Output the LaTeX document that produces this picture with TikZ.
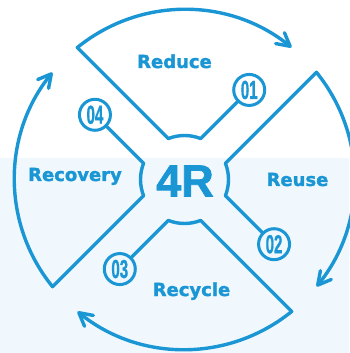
\documentclass[tikz,border=0pt]{standalone}
\usepackage{fontspec}
\usepackage{graphicx}
\usetikzlibrary{arrows.meta}
\newfontfamily\lblfont{DejaVu Sans}[BoldFeatures={FakeBold=1.6}]
\newfontfamily\hubfont{Liberation Sans}[BoldFeatures={FakeBold=1.6}]
\newfontfamily\digitfont{Liberation Sans}[BoldFeatures={FakeBold=1.2}]
\definecolor{brandblue}{RGB}{26,150,213}
\definecolor{paleblue}{RGB}{240,248,253}
\tikzset{
  outline/.style={draw=brandblue, line width=3.4pt, line join=round, line cap=round,
    -{Straight Barb[length=13pt,width=14pt,round]}},
  numcirc/.style={circle, draw=brandblue, line width=3pt, minimum size=31pt, inner sep=0pt,
    text=brandblue, font=\digitfont\bfseries\fontsize{26}{26}\selectfont},
  stagelbl/.style={anchor=base, text=brandblue, inner sep=0pt,
    font=\lblfont\bfseries\fontsize{18}{18}\selectfont},
  hublbl/.style={anchor=base, text=brandblue, inner sep=0pt,
    font=\hubfont\bfseries\fontsize{45}{45}\selectfont}
}
\begin{document}
\begin{tikzpicture}[x=1pt,y=1pt]
  % canvas: white upper band, pale blue lower band
  \useasboundingbox (-184.5,-173.5) rectangle (164.5,179.5);
  \fill[white] (-184.5,21.5) rectangle (164.5,179.5);
  \fill[paleblue] (-184.5,-173.5) rectangle (164.5,21.5);

  % four quadrant outlines, each ending in an arrow toward the next stage
  \foreach \k/\num in {0/01,1/02,2/03,3/04}{
    \pgfmathsetmacro{\rot}{-90*\k}
    \node[numcirc] (n\k) at ({54.15+\rot}:110.5) {\scalebox{0.58}[1]{\num}};
    \draw[outline] (n\k) -- ({68.43+\rot}:44)
      arc[start angle={68.43+\rot}, end angle={111.57+\rot}, radius=44]
      -- ({129.09+\rot}:170)
      arc[start angle={129.09+\rot}, end angle={51+\rot}, radius=170];
  }

  % stage names
  \node[stagelbl] (reduce)   at (-10,111.5)   {Reduce};
  \node[stagelbl] (reuse)    at (113,-6.5)    {Reuse};
  \node[stagelbl] (recycle)  at (7,-116.5)    {Recycle};
  \node[stagelbl] (recovery) at (-109.5,-1.5) {Recovery};

  % hub title
  \node[hublbl] (hub) at (0.5,-17) {4R};
\end{tikzpicture}
\end{document}
